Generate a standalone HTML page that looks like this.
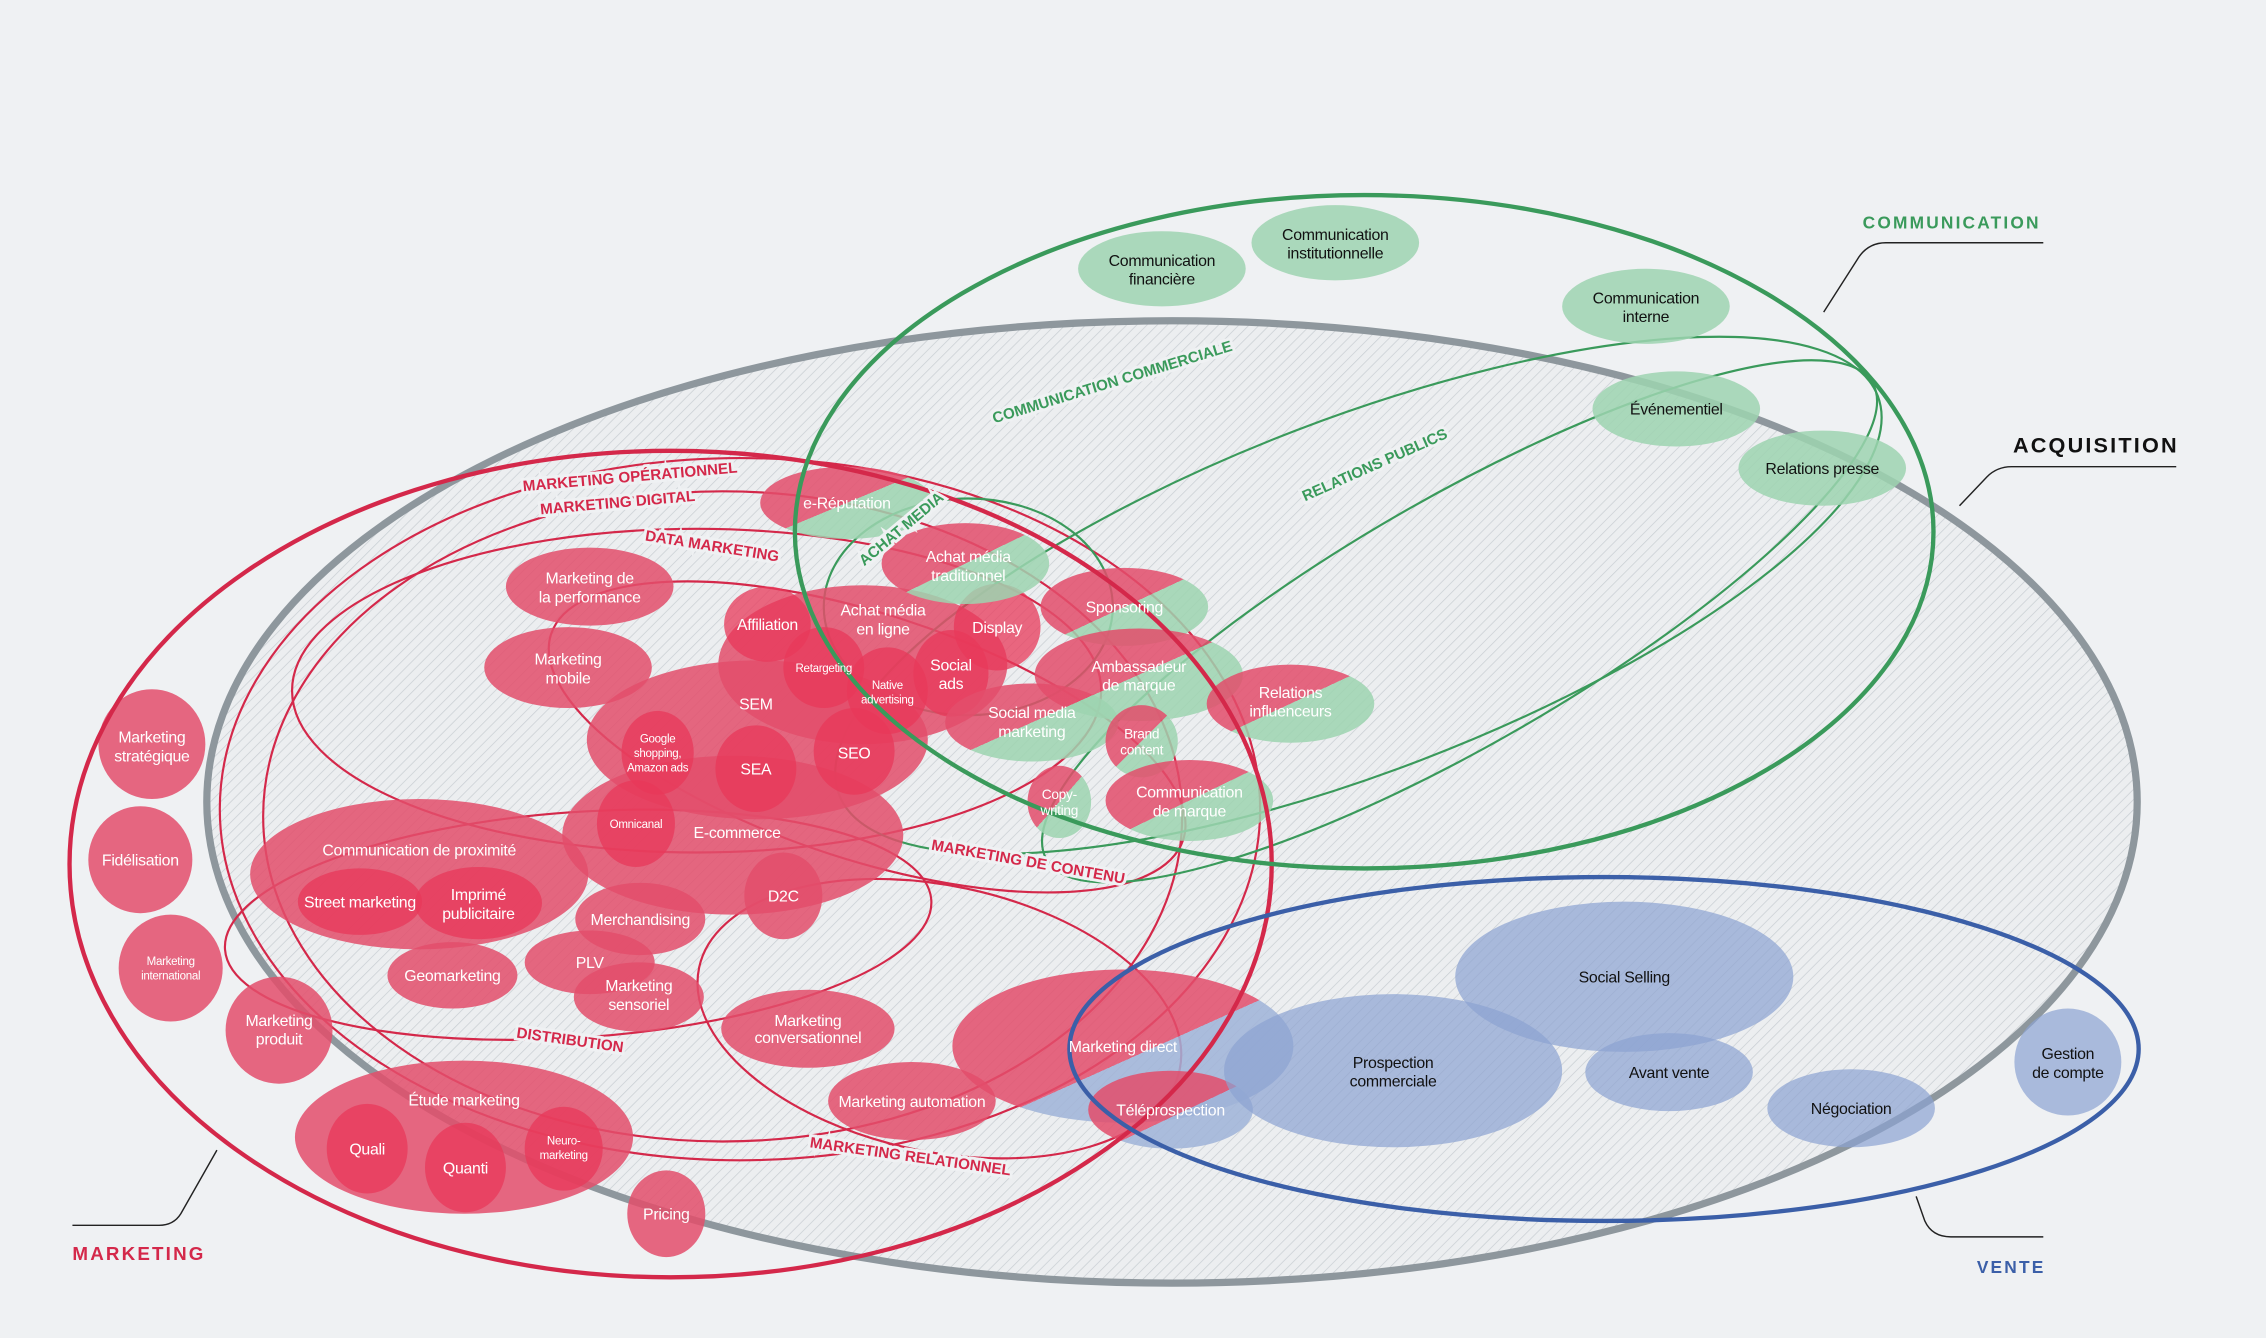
<!DOCTYPE html>
<html><head><meta charset="utf-8"><style>
html,body{margin:0;padding:0;background:#eff1f3;}
svg{display:block;}
text{font-family:"Liberation Sans Narrow","Liberation Sans",sans-serif;}
.w{fill:#fff;font-size:11px;text-anchor:middle;letter-spacing:-0.2px;}
.k{fill:#111;font-size:11px;text-anchor:middle;letter-spacing:-0.2px;}
.s{fill:#fff;font-size:8px;text-anchor:middle;letter-spacing:-0.2px;}
.lab{fill:#d4284a;font-size:10.5px;font-weight:bold;stroke:#eff1f3;stroke-width:4px;paint-order:stroke;}
.glab{fill:#3a9a5b;font-size:10.5px;font-weight:bold;stroke:#eff1f3;stroke-width:4px;paint-order:stroke;}
</style></head><body>
<svg width="2266" height="1338" viewBox="0 0 1568 926" xmlns="http://www.w3.org/2000/svg">
<defs>
<pattern id="h" width="5" height="5" patternUnits="userSpaceOnUse" patternTransform="rotate(45)">
<rect width="5" height="5" fill="#eceef0"/><line x1="0" y1="0" x2="0" y2="5" stroke="#c9ced3" stroke-width="1"/></pattern>
<linearGradient id="rg" x1="0" y1="0" x2="1" y2="1"><stop offset="0.5" stop-color="#e34d6b"/><stop offset="0.5" stop-color="#9dd4b0"/></linearGradient>
<linearGradient id="rb" x1="0" y1="0" x2="1" y2="1"><stop offset="0.55" stop-color="#e34d6b"/><stop offset="0.55" stop-color="#9fb3d8"/></linearGradient>
</defs>
<rect width="1568" height="926" fill="#eff1f3"/>
<ellipse cx="811" cy="555" rx="668" ry="333" fill="url(#h)" stroke="#8e979d" stroke-width="5"/>
<g fill="none" stroke="#d4284a" stroke-width="1.5">
<ellipse cx="512" cy="560" rx="360" ry="243"/>
<ellipse cx="500" cy="565" rx="318" ry="225"/>
<ellipse cx="482" cy="478" rx="280" ry="112"/>
<ellipse cx="600" cy="510" rx="230" ry="85" transform="rotate(18 600 510)"/>
<ellipse cx="400" cy="640" rx="245" ry="78" transform="rotate(-4 400 640)"/>
<ellipse cx="650" cy="705" rx="170" ry="92" transform="rotate(12 650 705)"/>
</g>
<g fill="none" stroke="#3a9a5b" stroke-width="1.5">
<ellipse cx="940" cy="412" rx="385" ry="122" transform="rotate(-21 940 412)"/>
<ellipse cx="1010" cy="430" rx="330" ry="85" transform="rotate(-30 1010 430)"/>
<ellipse cx="670" cy="420" rx="100" ry="75"/>
</g>
<g fill="#e34d6b" fill-opacity="0.85">
<ellipse cx="408" cy="406" rx="58" ry="27"/>
<ellipse cx="393" cy="462" rx="58" ry="28"/>
<ellipse cx="105" cy="515" rx="37" ry="38"/>
<ellipse cx="97" cy="595" rx="36" ry="37"/>
<ellipse cx="118" cy="670" rx="36" ry="37"/>
<ellipse cx="193" cy="713" rx="37" ry="37"/>
<ellipse cx="290" cy="605" rx="117" ry="52"/>
<ellipse cx="313" cy="675" rx="45" ry="23"/>
<ellipse cx="443" cy="636" rx="45" ry="25"/>
<ellipse cx="408" cy="666" rx="45" ry="22"/>
<ellipse cx="442" cy="690" rx="45" ry="24"/>
<ellipse cx="542" cy="620" rx="27" ry="30"/>
<ellipse cx="559" cy="712" rx="60" ry="27"/>
<ellipse cx="631" cy="762" rx="58" ry="27"/>
<ellipse cx="321" cy="787" rx="117" ry="53"/>
<ellipse cx="461" cy="840" rx="27" ry="30"/>
<ellipse cx="597" cy="460" rx="100" ry="55"/>
<ellipse cx="507" cy="578" rx="118" ry="55"/>
<ellipse cx="524" cy="512" rx="118" ry="55"/>
</g>
<g fill="#e8385a" fill-opacity="0.75">
<ellipse cx="531" cy="432" rx="30" ry="26"/>
<ellipse cx="570" cy="462" rx="28" ry="28"/>
<ellipse cx="614" cy="478" rx="28" ry="30"/>
<ellipse cx="658" cy="466" rx="26" ry="30"/>
<ellipse cx="690" cy="434" rx="30" ry="30"/>
<ellipse cx="455" cy="521" rx="25" ry="29"/>
<ellipse cx="523" cy="532" rx="28" ry="30"/>
<ellipse cx="591" cy="520" rx="28" ry="30"/>
<ellipse cx="440" cy="570" rx="27" ry="30"/>
<ellipse cx="249" cy="624" rx="43" ry="23"/>
<ellipse cx="331" cy="625" rx="44" ry="25"/>
<ellipse cx="254" cy="795" rx="28" ry="31"/>
<ellipse cx="322" cy="808" rx="28" ry="31"/>
<ellipse cx="390" cy="795" rx="27" ry="29"/>
</g>
<g fill="url(#rg)" fill-opacity="0.85">
<ellipse cx="586" cy="348" rx="60" ry="25"/>
<ellipse cx="668" cy="390" rx="58" ry="28"/>
<ellipse cx="778" cy="420" rx="58" ry="27"/>
<ellipse cx="788" cy="467" rx="72" ry="32"/>
<ellipse cx="714" cy="500" rx="60" ry="27"/>
<ellipse cx="893" cy="487" rx="58" ry="27"/>
<ellipse cx="790" cy="513" rx="25" ry="25"/>
<ellipse cx="733" cy="555" rx="22" ry="25"/>
<ellipse cx="823" cy="554" rx="58" ry="28"/>
</g>
<g fill="url(#rb)" fill-opacity="0.85">
<ellipse cx="777" cy="724" rx="118" ry="53"/>
<ellipse cx="810" cy="768" rx="57" ry="27"/>
</g>
<g fill="#9dd4b0" fill-opacity="0.85">
<ellipse cx="804" cy="186" rx="58" ry="26"/>
<ellipse cx="924" cy="168" rx="58" ry="26"/>
<ellipse cx="1139" cy="212" rx="58" ry="26"/>
<ellipse cx="1160" cy="283" rx="58" ry="26"/>
<ellipse cx="1261" cy="324" rx="58" ry="26"/>
</g>
<g fill="#8ba3d2" fill-opacity="0.7">
<ellipse cx="1124" cy="676" rx="117" ry="52"/>
<ellipse cx="964" cy="741" rx="117" ry="53"/>
<ellipse cx="1155" cy="742" rx="58" ry="27"/>
<ellipse cx="1281" cy="767" rx="58" ry="27"/>
<ellipse cx="1431" cy="735" rx="37" ry="37"/>
</g>
<ellipse cx="464" cy="598" rx="416" ry="286" fill="none" stroke="#d4284a" stroke-width="3"/>
<ellipse cx="944" cy="368" rx="394" ry="233" fill="none" stroke="#3a9a5b" stroke-width="3"/>
<ellipse cx="1110" cy="726" rx="370" ry="119" fill="none" stroke="#3b5fa8" stroke-width="3"/>
<g fill="none" stroke="#222" stroke-width="1">
<path d="M50 848 H110 Q120 848 125 840 L150 796"/>
<path d="M1262 216 L1285 180 Q1292 168 1305 168 H1414"/>
<path d="M1356 350 L1375 330 Q1382 323 1392 323 H1506"/>
<path d="M1326 828 L1332 845 Q1337 856 1350 856 H1414"/>
</g>
<text x="50" y="872" fill="#d4284a" font-size="13" font-weight="bold" letter-spacing="1.5">MARKETING</text>
<text x="1289" y="158" fill="#3a9a5b" font-size="12" font-weight="bold" letter-spacing="1.5">COMMUNICATION</text>
<text x="1393" y="313" fill="#111" font-size="15" font-weight="bold" letter-spacing="1.5">ACQUISITION</text>
<text x="1368" y="881" fill="#3b5fa8" font-size="12" font-weight="bold" letter-spacing="1.5">VENTE</text>
<text class="lab" x="362" y="340" transform="rotate(-5 362 340)">MARKETING OPÉRATIONNEL</text>
<text class="lab" x="374" y="356" transform="rotate(-5 374 356)">MARKETING DIGITAL</text>
<text class="lab" x="446" y="374" transform="rotate(9 446 374)">DATA MARKETING</text>
<text class="lab" x="644" y="588" transform="rotate(10 644 588)">MARKETING DE CONTENU</text>
<text class="lab" x="357" y="718" transform="rotate(8 357 718)">DISTRIBUTION</text>
<text class="lab" x="560" y="794" transform="rotate(8 560 794)">MARKETING RELATIONNEL</text>
<text class="glab" x="688" y="293" transform="rotate(-17 688 293)">COMMUNICATION COMMERCIALE</text>
<text class="glab" x="903" y="347" transform="rotate(-24 903 347)">RELATIONS PUBLICS</text>
<text class="glab" x="598" y="392" transform="rotate(-40 598 392)">ACHAT MEDIA</text>
<g class="w">
<text x="408" y="404">Marketing de</text><text x="408" y="417">la performance</text>
<text x="393" y="460">Marketing</text><text x="393" y="473">mobile</text>
<text x="105" y="514">Marketing</text><text x="105" y="527">stratégique</text>
<text x="97" y="599">Fidélisation</text>
<text x="193" y="710">Marketing</text><text x="193" y="723">produit</text>
<text x="290" y="592">Communication de proximité</text>
<text x="249" y="628">Street marketing</text>
<text x="331" y="623">Imprimé</text><text x="331" y="636">publicitaire</text>
<text x="313" y="679">Geomarketing</text>
<text x="443" y="640">Merchandising</text>
<text x="408" y="670">PLV</text>
<text x="442" y="686">Marketing</text><text x="442" y="699">sensoriel</text>
<text x="542" y="624">D2C</text>
<text x="559" y="710">Marketing</text><text x="559" y="722">conversationnel</text>
<text x="631" y="766">Marketing automation</text>
<text x="321" y="765">Étude marketing</text>
<text x="254" y="799">Quali</text>
<text x="322" y="812">Quanti</text>
<text x="461" y="844">Pricing</text>
<text x="531" y="436">Affiliation</text>
<text x="611" y="426">Achat média</text><text x="611" y="439">en ligne</text>
<text x="690" y="438">Display</text>
<text x="658" y="464">Social</text><text x="658" y="477">ads</text>
<text x="523" y="491">SEM</text>
<text x="523" y="536">SEA</text>
<text x="591" y="525">SEO</text>
<text x="510" y="580">E-commerce</text>
<text x="586" y="352">e-Réputation</text>
<text x="670" y="389">Achat média</text><text x="670" y="402">traditionnel</text>
<text x="778" y="424">Sponsoring</text>
<text x="788" y="465">Ambassadeur</text><text x="788" y="478">de marque</text>
<text x="714" y="497">Social media</text><text x="714" y="510">marketing</text>
<text x="893" y="483">Relations</text><text x="893" y="496">influenceurs</text>
<text x="823" y="552">Communication</text><text x="823" y="565">de marque</text>
<text x="777" y="728">Marketing direct</text>
<text x="810" y="772">Téléprospection</text>
</g>
<g class="s">
<text x="570" y="465">Retargeting</text>
<text x="614" y="477">Native</text><text x="614" y="487">advertising</text>
<text x="455" y="514">Google</text><text x="455" y="524">shopping,</text><text x="455" y="534">Amazon ads</text>
<text x="440" y="573">Omnicanal</text>
<text x="118" y="668">Marketing</text><text x="118" y="678">international</text>
<text x="390" y="792">Neuro-</text><text x="390" y="802">marketing</text>
<text x="790" y="511" font-size="9.5">Brand</text><text x="790" y="522" font-size="9.5">content</text>
<text x="733" y="553" font-size="9.5">Copy-</text><text x="733" y="564" font-size="9.5">writing</text>
</g>
<g class="k">
<text x="804" y="184">Communication</text><text x="804" y="197">financière</text>
<text x="924" y="166">Communication</text><text x="924" y="179">institutionnelle</text>
<text x="1139" y="210">Communication</text><text x="1139" y="223">interne</text>
<text x="1160" y="287">Événementiel</text>
<text x="1261" y="328">Relations presse</text>
<text x="1124" y="680">Social Selling</text>
<text x="964" y="739">Prospection</text><text x="964" y="752">commerciale</text>
<text x="1155" y="746">Avant vente</text>
<text x="1281" y="771">Négociation</text>
<text x="1431" y="733">Gestion</text><text x="1431" y="746">de compte</text>
</g>
</svg>
</body></html>
